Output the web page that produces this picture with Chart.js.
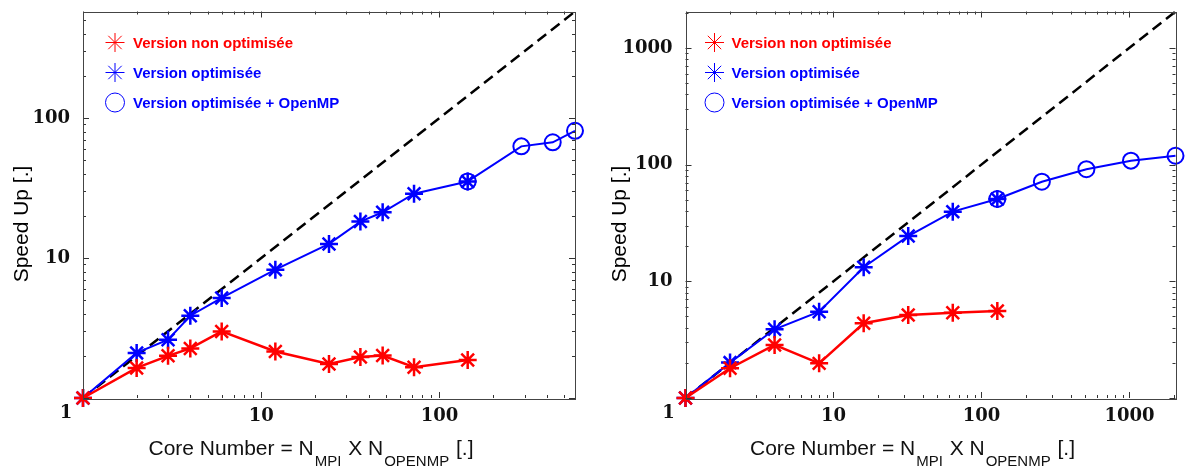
<!DOCTYPE html>
<html>
<head>
<meta charset="utf-8">
<script src="https://cdn.jsdelivr.net/npm/chart.js@4/dist/chart.umd.min.js"></script>
<style>
  body { margin: 0; background: #fff; }
  #wrap { position: relative; width: 1187px; height: 471px; }
  .panel { position: absolute; top: 0; height: 471px; }
  #left { left: 0; width: 593px; }
  #right { left: 593px; width: 594px; }
</style>
</head>
<body>
<div id="wrap">
  <div class="panel" id="left"><canvas id="chartLeft"></canvas></div>
  <div class="panel" id="right"><canvas id="chartRight"></canvas></div>
</div>
<script>
// left panel data
const coresA = [1, 2, 3, 4, 6, 12, 24, 36, 48, 72, 144];
const nonOptA = [1, 1.64, 2.0, 2.26, 2.99, 2.15, 1.75, 1.96, 2.01, 1.66, 1.87];
const optA = [1, 2.1, 2.61, 3.87, 5.18, 8.25, 12.6, 18.2, 21.2, 28.8, 35.2];
const coresOmpA = [144, 288, 432, 576];
const optOmpA = [35.2, 62.7, 67, 81];
const idealA = [1, 576];
const tickLabelsA = [10, 100];

// right panel data
const coresB = [1, 2, 4, 8, 16, 32, 64, 128];
const nonOptB = [1, 1.8, 2.85, 1.98, 4.37, 5.14, 5.38, 5.57];
const optB = [1, 2.01, 3.88, 5.49, 13.2, 24.4, 39.5, 50.7];
const coresOmpB = [128, 256, 512, 1024, 2048];
const optOmpB = [50.7, 71.3, 91.2, 108, 119];
const idealB = [1, 2048];
const tickLabelsB = [10, 100, 1000];

const legendLabels = ['Version non optimisée', 'Version optimisée', 'Version optimisée + OpenMP'];
const yTitle = 'Speed Up [.]';
// x title pieces: [text, is subscript]
const xTitleParts = [['Core Number = N', false], ['MPI', true], [' X N', false], ['OPENMP', true], [' [.]', false]];
const cornerLabel = '1';

const RED = '#ff0000';
const BLUE = '#0000ff';
const TICK_FONT = { family: 'DejaVu Serif', weight: 'bold', size: 18 };
const SANS = '"Liberation Sans", Arial, sans-serif';

function pts(xs, ys) {
  return xs.map((v, i) => ({ x: v, y: ys[i] }));
}

function logTicks(min, max) {
  const out = [];
  for (let e = Math.floor(Math.log10(min)); e <= Math.ceil(Math.log10(max)); e++) {
    for (let m = 1; m <= 9; m++) {
      const v = m * Math.pow(10, e);
      if (v >= min && v <= max) out.push({ v, major: m === 1 });
    }
  }
  return out;
}

const paperPlugin = {
  id: 'paper',
  afterDraw(chart, args, opts) {
    const { ctx, chartArea: a, scales } = chart;
    const sx = scales.x, sy = scales.y;
    ctx.save();

    // inward tick marks on all four sides
    ctx.strokeStyle = '#333';
    ctx.lineWidth = 1;
    ctx.beginPath();
    logTicks(sx.min, sx.max).forEach((t) => {
      const px = Math.round(sx.getPixelForValue(t.v)) + 0.5;
      const len = t.major ? 6 : 3;
      ctx.moveTo(px, a.bottom); ctx.lineTo(px, a.bottom - len);
      ctx.moveTo(px, a.top); ctx.lineTo(px, a.top + len);
    });
    logTicks(sy.min, sy.max).forEach((t) => {
      const py = Math.round(sy.getPixelForValue(t.v)) + 0.5;
      const len = t.major ? 6 : 3;
      ctx.moveTo(a.left, py); ctx.lineTo(a.left + len, py);
      ctx.moveTo(a.right, py); ctx.lineTo(a.right - len, py);
    });
    ctx.stroke();
    ctx.strokeStyle = '#444';
    ctx.strokeRect(Math.round(a.left) + 0.5, Math.round(a.top) + 0.5,
      Math.round(a.right - a.left), Math.round(a.bottom - a.top));

    // shared "1" at the corner
    ctx.fillStyle = '#111';
    ctx.font = 'bold 18px "DejaVu Serif"';
    ctx.textAlign = 'center';
    ctx.textBaseline = 'middle';
    ctx.fillText(cornerLabel, a.left - 17, a.bottom + 15);

    // y title
    ctx.save();
    ctx.translate(a.left - opts.yTitleGap, 224);
    ctx.rotate(-Math.PI / 2);
    ctx.font = '21px ' + SANS;
    ctx.fillStyle = '#000';
    ctx.fillText(yTitle, 0, 0);
    ctx.restore();

    // x title with subscripts
    ctx.textAlign = 'left';
    ctx.textBaseline = 'alphabetic';
    let total = 0;
    xTitleParts.forEach(([t, sub]) => {
      ctx.font = (sub ? '15px ' : '21px ') + SANS;
      total += ctx.measureText(t).width + (sub ? 2 : 0);
    });
    let cx = (a.left + a.right) / 2 - 18 - total / 2;
    xTitleParts.forEach(([t, sub]) => {
      ctx.font = (sub ? '15px ' : '21px ') + SANS;
      ctx.fillText(t, cx + (sub ? 1 : 0), sub ? 466 : 455);
      cx += ctx.measureText(t).width + (sub ? 2 : 0);
    });

    // legend in the top-left corner of the plot
    const styles = [['star', RED], ['star', BLUE], ['circle', BLUE]];
    ctx.font = 'bold 15px ' + SANS;
    ctx.textBaseline = 'middle';
    styles.forEach(([ps, col], i) => {
      const ly = a.top + 31 + i * 30;
      ctx.strokeStyle = col;
      ctx.fillStyle = 'rgba(0,0,0,0)';
      Chart.helpers.drawPoint(ctx, { pointStyle: ps, radius: 9.5, borderWidth: 2.5, rotation: 0 },
        a.left + opts.legendX[0], ly);
      ctx.fillStyle = col;
      ctx.fillText(legendLabels[i], a.left + opts.legendX[1], ly + 1);
    });
    ctx.restore();
  },
};

function makeChart(id, d) {
  const seriesLine = (label, data, color, style, width) => ({
    label,
    data,
    showLine: true,
    borderColor: color,
    backgroundColor: color,
    borderWidth: width,
    pointStyle: style,
    pointRadius: style === 'circle' ? 8 : 9,
    pointHoverRadius: style === 'circle' ? 8 : 9,
    pointBorderWidth: style === 'circle' ? 2 : 2.5,
    pointBorderColor: color,
    pointBackgroundColor: 'rgba(0,0,0,0)',
    clip: false,
  });
  return new Chart(document.getElementById(id), {
    type: 'scatter',
    data: {
      datasets: [
        seriesLine(legendLabels[0], pts(d.cores, d.nonOpt), RED, 'star', 2.5),
        seriesLine(legendLabels[1], pts(d.cores, d.opt), BLUE, 'star', 2),
        seriesLine(legendLabels[2], pts(d.coresOmp, d.optOmp), BLUE, 'circle', 2),
        {
          label: 'ideal',
          data: pts(d.ideal, d.ideal),
          showLine: true,
          borderColor: '#000',
          borderWidth: 2.5,
          borderDash: [11, 6],
          pointRadius: 0,
          clip: false,
        },
      ],
    },
    options: {
      responsive: true,
      maintainAspectRatio: false,
      animation: false,
      events: [],
      layout: { padding: { top: 11, right: d.padRight, left: 0, bottom: 0 } },
      plugins: {
        legend: { display: false },
        tooltip: { enabled: false },
        paper: { yTitleGap: d.yTitleGap, legendX: d.legendX },
      },
      scales: {
        x: {
          type: 'logarithmic',
          min: d.ideal[0],
          max: d.ideal[1],
          grid: { display: false },
          border: { display: false },
          ticks: {
            autoSkip: false,
            maxRotation: 0,
            padding: 0,
            font: TICK_FONT,
            color: '#111',
            callback: (v) => (d.tickLabels.includes(v) ? String(v) : ''),
          },
          afterFit: (s) => {
            s.height = 73;
            s.paddingLeft = 0;
            s.paddingRight = 0;
          },
        },
        y: {
          type: 'logarithmic',
          min: d.ideal[0],
          max: d.ideal[1],
          grid: { display: false },
          border: { display: false },
          ticks: {
            autoSkip: false,
            padding: 5,
            font: TICK_FONT,
            color: '#111',
            callback: (v) => (d.tickLabels.includes(v) ? String(v) : ''),
          },
          afterFit: (s) => {
            s.width = d.yWidth;
            s.paddingTop = 0;
            s.paddingBottom = 0;
          },
        },
      },
    },
    plugins: [paperPlugin],
  });
}

makeChart('chartLeft', {
  cores: coresA, nonOpt: nonOptA, opt: optA, coresOmp: coresOmpA, optOmp: optOmpA,
  ideal: idealA, tickLabels: tickLabelsA,
  yWidth: 83, padRight: 18, yTitleGap: 61, legendX: [32, 50],
});
makeChart('chartRight', {
  cores: coresB, nonOpt: nonOptB, opt: optB, coresOmp: coresOmpB, optOmp: optOmpB,
  ideal: idealB, tickLabels: tickLabelsB,
  yWidth: 92.5, padRight: 9, yTitleGap: 65.5, legendX: [29, 46],
});
</script>
</body>
</html>
